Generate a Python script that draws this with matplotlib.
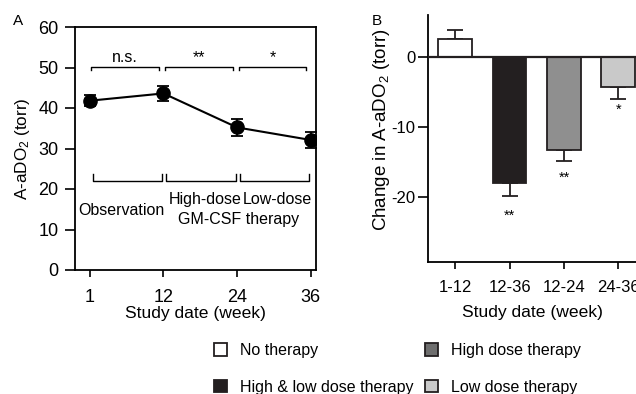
import numpy as np
import matplotlib
matplotlib.use('Agg')
import matplotlib.pyplot as plt
from matplotlib.patches import Patch

plt.rcParams['font.family'] = ['Liberation Sans', 'DejaVu Sans']
plt.rcParams['mathtext.fontset'] = 'custom'
plt.rcParams['mathtext.rm'] = 'Liberation Sans'
plt.rcParams['font.size'] = 11.5

# Painel A: A-aDO2 ao longo do estudo
semanas = ['1', '12', '24', '36']
aado2 = [41.8, 43.6, 35.2, 32.1]
aado2_erro = [1.3, 1.9, 2.2, 2.0]
sig_topo = ['n.s.', '**', '*']

# Painel B: variacao de A-aDO2
periodos = ['1-12', '12-36', '12-24', '24-36']
variacao = [2.6, -18.0, -13.2, -4.3]
variacao_erro = [1.2, 1.8, 1.6, 1.7]
sig_barras = ['', '**', '**', '*']
sig_y = [0, -22.6, -17.2, -7.5]
cores = ['white', '#231f20', '#8f8f8f', '#c9c9c9']
legenda_nomes = ['No therapy', 'High & low dose therapy', 'High dose therapy', 'Low dose therapy']
legenda_cores = ['white', '#231f20', '#6e6e6e', '#c9c9c9']

W, H = 636, 394
fig = plt.figure(figsize=(W / 100, H / 100), dpi=100)

# ---------------- A ----------------
ax1 = fig.add_axes([75 / W, 1 - 270 / H, (316 - 75) / W, (270 - 27) / H])
x = np.arange(len(semanas))
ax1.errorbar(x, aado2, yerr=aado2_erro, color='black', lw=1.5, marker='o',
             markersize=9.5, capsize=4, elinewidth=1.3, capthick=1.3)
ax1.set_xlim(-0.2, 3.07)
ax1.set_ylim(0, 60)
ax1.set_xticks(x)
ax1.set_xticklabels(semanas)
ax1.set_yticks(range(0, 61, 10))
ax1.tick_params(direction='out', width=1.2, labelsize=13)
ax1.tick_params(axis='x', length=5, pad=9)
ax1.tick_params(axis='y', length=7, pad=5)
for s in ax1.spines.values():
    s.set_linewidth(1.3)
ax1.set_ylabel('A-aDO$\\mathregular{_2}$ (torr)', fontsize=12.3)
ax1.yaxis.set_label_coords(-(75 - 32) / (316 - 75), 0.5)
ax1.set_xlabel('Study date (week)', fontsize=12.6, labelpad=0)

# colchetes superiores
for i, txt in enumerate(sig_topo):
    a, b = x[i] + 0.02, x[i + 1] - 0.06
    ax1.plot([a, a, b, b], [49.3, 50.2, 50.2, 49.3], color='black', lw=1)
    ax1.text((a + b) / 2, 50.6, txt, ha='center', va='bottom')
# colchetes inferiores
for i in range(3):
    a, b = x[i] + 0.04, x[i + 1] - 0.02
    ax1.plot([a, a, b, b], [23.7, 22.0, 22.0, 23.7], color='black', lw=1)
ax1.text(0.43, 14.6, 'Observation', ha='center', va='center')
ax1.text(1.56, 17.4, 'High-dose', ha='center', va='center')
ax1.text(2.55, 17.4, 'Low-dose', ha='center', va='center')
ax1.text(2.02, 12.4, 'GM-CSF therapy', ha='center', va='center')
fig.text(13 / W, 1 - 21 / H, 'A', ha='left', va='center', fontsize=11)

# ---------------- B ----------------
ax2 = fig.add_axes([428 / W, 1 - 262 / H, (W - 428) / W, (262 - 15) / H])
xb = np.arange(len(periodos))
ax2.bar(xb, variacao, width=0.62, color=cores, edgecolor='#231f20', lw=1.3, zorder=2)
for xi, v, e in zip(xb, variacao, variacao_erro):
    ax2.errorbar(xi, v, yerr=[[e if v < 0 else 0], [e if v > 0 else 0]],
                 color='#231f20', capsize=5.5, elinewidth=1.3, capthick=1.3, zorder=1)
for xi, yy, s in zip(xb, sig_y, sig_barras):
    if s:
        ax2.text(xi, yy, s, ha='center', va='center', fontsize=10.5)
ax2.axhline(0, color='#231f20', lw=1.6, zorder=3)
ax2.set_xlim(-0.5, 3.325)
ax2.set_ylim(-29.2, 6)
ax2.set_yticks([0, -10, -20])
ax2.set_yticklabels(['0', '-10', '-20'])
ax2.set_xticks(xb)
ax2.set_xticklabels(periodos)
ax2.spines['top'].set_visible(False)
ax2.spines['right'].set_visible(False)
for s in ax2.spines.values():
    s.set_linewidth(1.3)
ax2.tick_params(direction='out', width=1.2, labelsize=12)
ax2.tick_params(axis='x', length=5, pad=8)
ax2.tick_params(axis='y', length=7.5, pad=1.5)
ax2.set_ylabel('Change in A-aDO$\\mathregular{_2}$ (torr)', fontsize=13.5)
ax2.yaxis.set_label_coords(-(428 - 392) / (W - 428), (262 - 129.5) / (262 - 15))
ax2.set_xlabel('Study date (week)', fontsize=12.6)
ax2.xaxis.set_label_coords((533 - 428) / (W - 428), -(312 - 262) / (262 - 15))
ax2.xaxis.label.set_va('center')
fig.text(372 / W, 1 - 21 / H, 'B', ha='left', va='center', fontsize=11)

# legenda
handles = [Patch(facecolor=c, edgecolor='#231f20', lw=1.3) for c in legenda_cores]
fig.legend(handles, legenda_nomes, ncol=2, frameon=False, loc='upper left',
           bbox_to_anchor=(214 / W, 1 - 343 / H), handlelength=0.8, handleheight=0.8,
           handletextpad=0.8, columnspacing=0.75, labelspacing=1.35, fontsize=11.5,
           borderpad=0, borderaxespad=0)

fig.savefig('out.png', dpi=100)
